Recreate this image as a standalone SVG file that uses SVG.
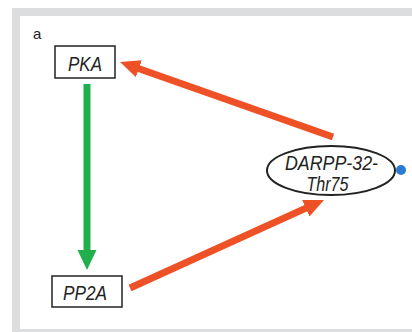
<svg xmlns="http://www.w3.org/2000/svg" width="412" height="332" viewBox="0 0 412 332">
<defs>
<style>
.box{fill:#fff;stroke:#222;stroke-width:1.5}
.lbl{font-family:"Liberation Sans",Arial,sans-serif;font-style:italic;font-size:21px;fill:#222;text-anchor:middle}
.red{stroke:#ef5127;stroke-width:7;fill:none}
.green{stroke:#20b04b;stroke-width:7;fill:none}
</style>
<marker id="hr" markerUnits="userSpaceOnUse" markerWidth="22" markerHeight="20" refX="2" refY="9" orient="auto" viewBox="0 0 22 20">
<path d="M0,0 L20,9 L0,18 z" fill="#ef5127"/>
</marker>
<marker id="hg" markerUnits="userSpaceOnUse" markerWidth="22" markerHeight="20" refX="2" refY="9.5" orient="auto" viewBox="0 0 22 20">
<path d="M0,0 L20,9.5 L0,19 z" fill="#20b04b"/>
</marker>
</defs>
<rect x="0" y="0" width="412" height="332" fill="#fff"/>
<rect x="12" y="8" width="400" height="324" fill="#dcdddf"/>
<rect x="20" y="16" width="392" height="313" fill="#fff"/>
<text x="33" y="39" font-family="Liberation Sans,Arial,sans-serif" font-size="15" fill="#222">a</text>
<g id="connectors">
<line class="green" x1="87" y1="84" x2="87" y2="252" marker-end="url(#hg)"/>
<line class="red" x1="333" y1="137" x2="137" y2="68" marker-end="url(#hr)"/>
<line class="red" x1="130" y1="288" x2="307.6" y2="207.4" marker-end="url(#hr)"/>
</g>
<g id="pka">
<rect class="box" x="55" y="46" width="60" height="32"/>
<text class="lbl" x="85" y="70.5" textLength="34" lengthAdjust="spacingAndGlyphs">PKA</text>
</g>
<g id="pp2a">
<rect class="box" x="52" y="276" width="70" height="31"/>
<text class="lbl" x="85" y="300" textLength="44" lengthAdjust="spacingAndGlyphs">PP2A</text>
</g>
<g id="darpp">
<ellipse cx="331" cy="170.5" rx="64" ry="24.5" fill="#fff" stroke="#222" stroke-width="2"/>
<text class="lbl" x="331.5" y="170" textLength="93" lengthAdjust="spacingAndGlyphs">DARPP-32-</text>
<text class="lbl" x="327.5" y="191" textLength="42" lengthAdjust="spacingAndGlyphs">Thr75</text>
<circle cx="401" cy="170" r="5" fill="#2b7bd0"/>
</g>
</svg>
